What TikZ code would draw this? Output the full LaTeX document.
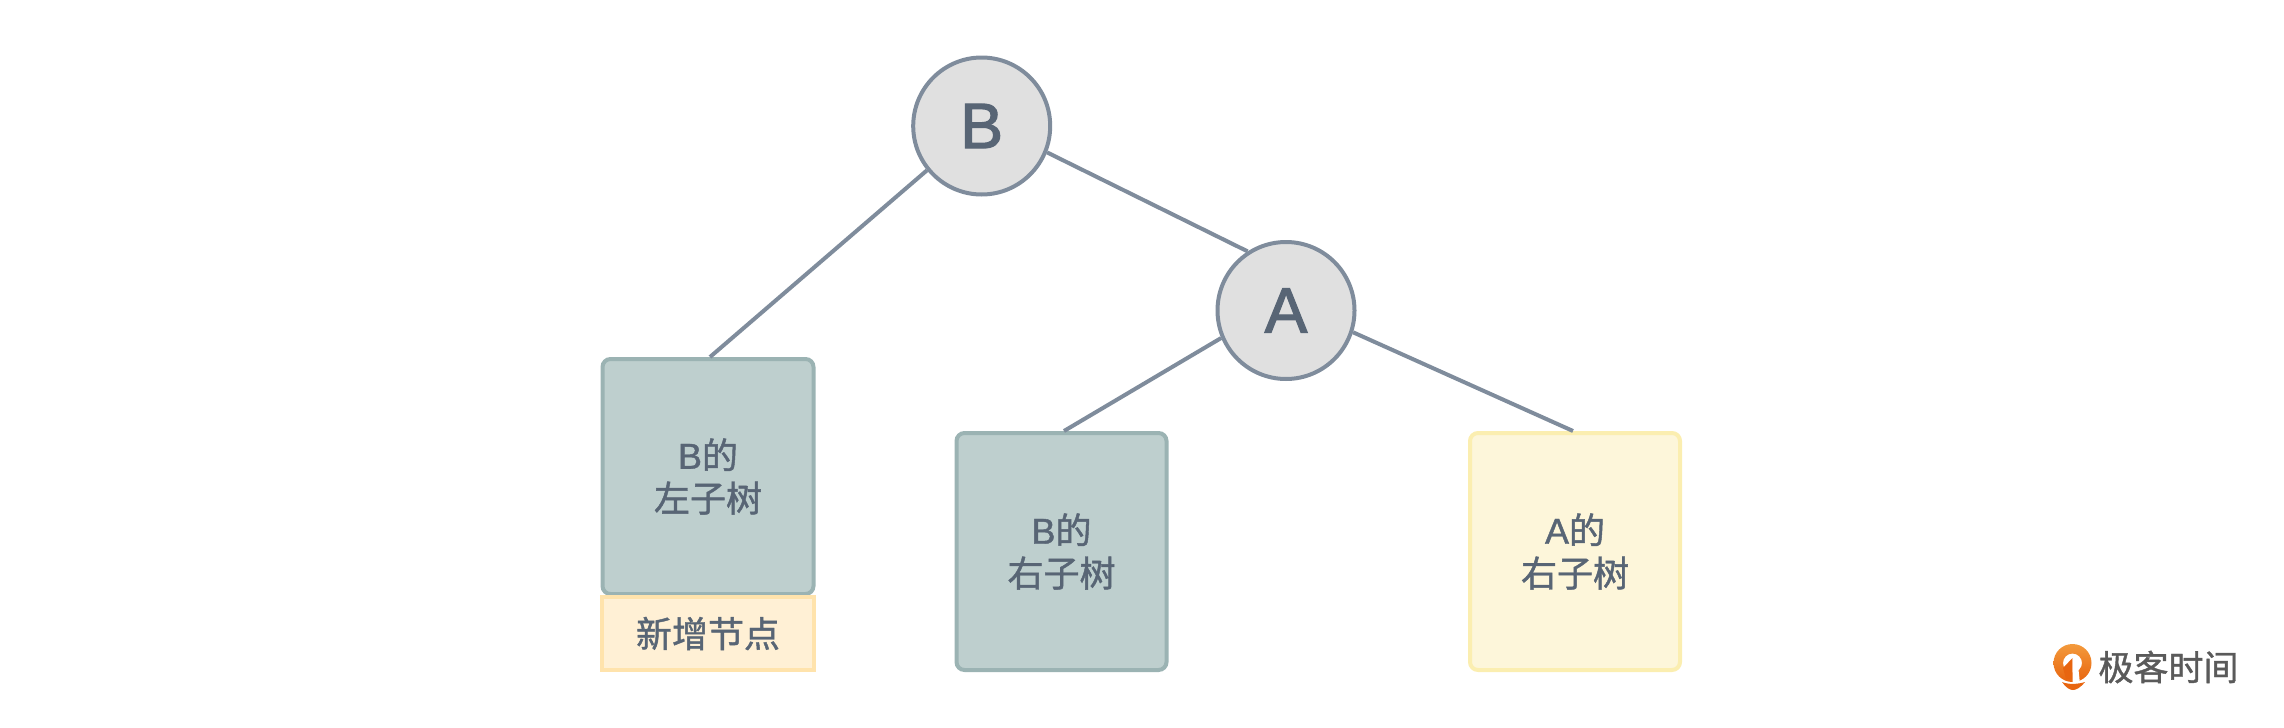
\documentclass[tikz,border=0pt]{standalone}
\usepackage{fontspec}
\newfontfamily\latn[FakeBold=1.2]{Liberation Sans}
\newfontfamily\latnbig[FakeBold=2.0]{Liberation Sans}
\newfontfamily\cjk[FakeBold=1.2]{Noto Sans CJK SC}
\newfontfamily\cjklogo[FakeBold=1.2]{Noto Sans CJK SC}
\definecolor{inkc}{HTML}{586575}
\definecolor{linec}{HTML}{7F8C9C}
\definecolor{circf}{HTML}{E0E0E0}
\definecolor{greenf}{HTML}{BECFCE}
\definecolor{greend}{HTML}{9BB3B3}
\definecolor{peachf}{HTML}{FFF0D5}
\definecolor{peachd}{HTML}{FFE3AC}
\definecolor{yelf}{HTML}{FDF6DA}
\definecolor{yeld}{HTML}{FBEEB0}
\definecolor{logot}{HTML}{5A5A5A}
\definecolor{logoa}{HTML}{F39A3C}
\definecolor{logob}{HTML}{E8650F}
\tikzset{
  treenode/.style={circle,draw=linec,fill=circf,line width=4pt,minimum size=137pt,inner sep=0pt,text=inkc,font=\latnbig\fontsize{64}{64}\selectfont},
  box/.style={rectangle,rounded corners=8pt,line width=4pt,inner sep=0pt,text=inkc,align=center,font=\latn\fontsize{36}{43}\selectfont},
  greenbox/.style={box,draw=greend,fill=greenf},
  yelbox/.style={box,draw=yeld,fill=yelf},
  newbox/.style={box,rounded corners=0pt,draw=peachd,fill=peachf},
  edge/.style={draw=linec,line width=4pt},
}
\begin{document}
\begin{tikzpicture}[x=1pt,y=-1pt]
\useasboundingbox (0,0) rectangle (2284,728);
\node[treenode] (B) at (981.7,126) {\raisebox{-1.5pt}{B}};
\node[treenode] (A) at (1286,310.5) {\raisebox{-1.5pt}{A}};
\node[greenbox,minimum width=211pt,minimum height=235pt] (L) at (708,476.5) {B{\cjk 的}\\{\cjk 左子树}};
\node[newbox,minimum width=212pt,minimum height=73pt] (N) at (708,633.5) {\cjk 新增节点};
\node[greenbox,minimum width=210pt,minimum height=237pt] (R) at (1061.5,551.5) {B{\cjk 的}\\{\cjk 右子树}};
\node[yelbox,minimum width=210pt,minimum height=237pt] (Y) at (1575,551.5) {A{\cjk 的}\\{\cjk 右子树}};
\draw[edge] (B.219) -- ([xshift=2pt]L.north);
\draw[edge] (B.-22) -- (A.123);
\draw[edge] (A.203) -- ([xshift=2.5pt]R.north);
\draw[edge] (A.-18) -- ([xshift=-2pt]Y.north);
% logo
\shade[top color=logoa,bottom color=logob,even odd rule]
  (2072.5,663) circle (19)
  (2072.5,663) circle (9.5);
\fill[logob] (2063,668) -- (2072.5,658) -- (2072.5,679) -- (2066,679) -- cycle;
\fill[white] (2072.5,658) -- (2078,665) -- (2080,684) -- (2072.5,684) -- cycle;
\fill[logob] (2062,682) .. controls (2068,684.5) and (2077,684.5) .. (2085,682) .. controls (2080,688) and (2076,690) .. (2073,690) .. controls (2070,690) and (2066,688) .. (2062,682) -- cycle;
\node[text=logot,font=\cjklogo\fontsize{35}{35}\selectfont,inner sep=0pt] (logo) at (2168.5,667) {极客时间};
\end{tikzpicture}
\end{document}
